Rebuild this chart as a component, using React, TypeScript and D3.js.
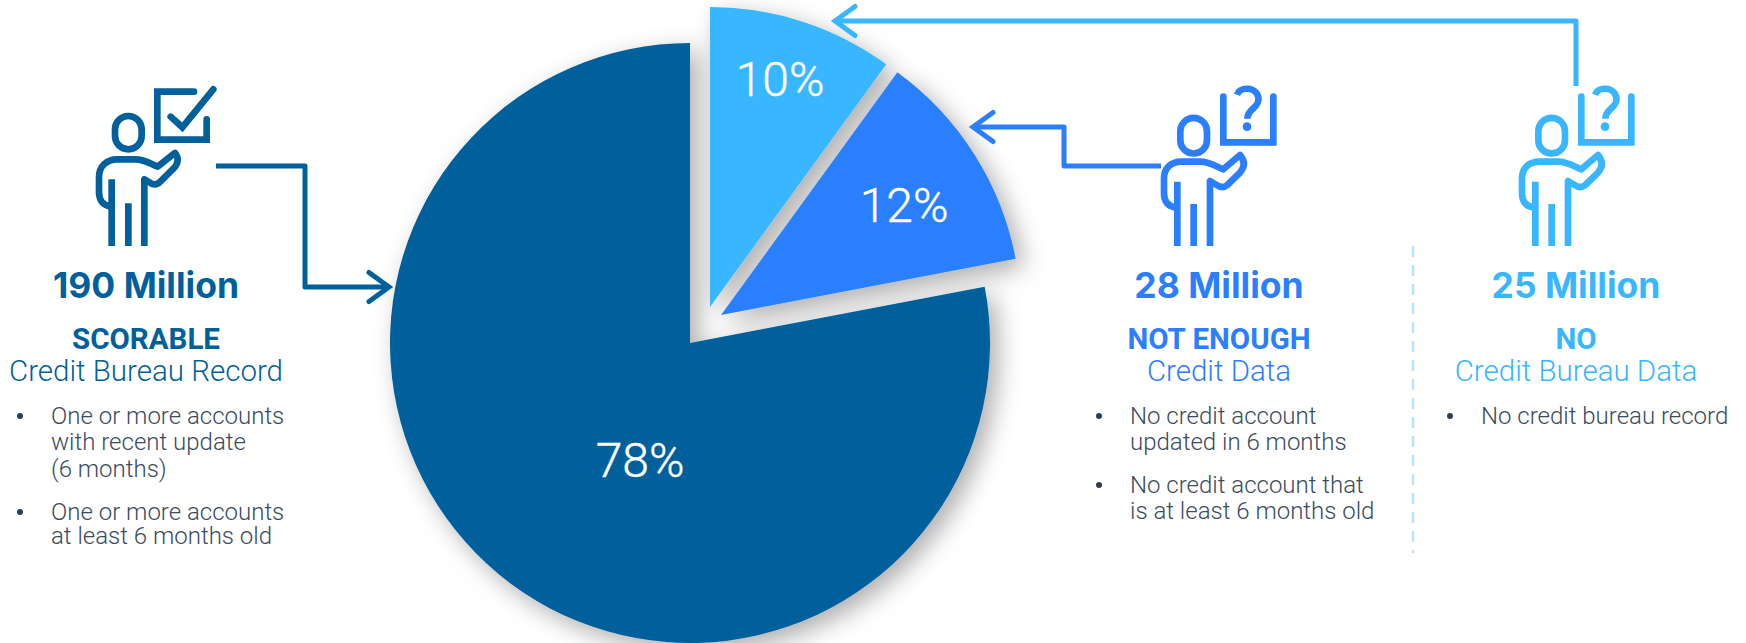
import React from "react";
import * as d3 from "d3";

// Credit population shares, clockwise from twelve o'clock
const segmentNames = ["No credit bureau data", "Not enough credit data", "Scorable"];
const segmentShares = [10, 12, 78];
const segmentColors = ["#38b6ff", "#2b7fff", "#00609c"];
const populationLabels = ["25 Million", "28 Million", "190 Million"];
const statusLabels = ["NO", "NOT ENOUGH", "SCORABLE"];
const recordLabels = ["Credit Bureau Data", "Credit Data", "Credit Bureau Record"];

const scorableBullets = [
  ["One or more accounts", "with recent update", "(6 months)"],
  ["One or more accounts", "at least 6 months old"],
];
const notEnoughBullets = [
  ["No credit account", "updated in 6 months"],
  ["No credit account that", "is at least 6 months old"],
];
const noDataBullets = [["No credit bureau record"]];

const WIDTH = 1746;
const HEIGHT = 643;
const RADIUS = 300;
const CENTER: [number, number] = [690, 343];
const SLICE_SHIFT: [number, number][] = [[20, -36], [31, -28], [0, 0]];
const SHARE_LABEL_POS: [number, number][] = [[780, 96], [904, 222], [640, 477]];
const BODY_TEXT = "#3b4b5e";
const SANS = "Roboto, sans-serif";

const pieLayout = d3.pie<number>().sort(null).startAngle(0).endAngle(2 * Math.PI);
const arcShape = d3.arc<d3.PieArcDatum<number>>().innerRadius(0).outerRadius(RADIUS);
const polyline = d3.line<[number, number]>();

function Arrow({ points, color }: { points: [number, number][]; color: string }) {
  const [tipX, tipY] = points[points.length - 1];
  const [prevX, prevY] = points[points.length - 2];
  const dir = Math.sign(tipX - prevX);
  const head: [number, number][] = [
    [tipX - dir * 20, tipY - 14.5],
    [tipX, tipY],
    [tipX - dir * 20, tipY + 14.5],
  ];
  return (
    <g fill="none" stroke={color} strokeWidth={5}>
      <path d={polyline(points) ?? ""} strokeLinejoin="round" />
      <path d={polyline(head) ?? ""} strokeLinecap="round" strokeLinejoin="miter" />
    </g>
  );
}

function Head({ x, y, rx, h }: { x: number; y: number; rx: number; h: number }) {
  return <rect x={x - rx} y={y - h / 2} width={rx * 2} height={h} rx={rx} ry={rx} />;
}

// Standing figure beside a ticked box, drawn on a 3x grid
function CheckFigure({ color }: { color: string }) {
  return (
    <g transform="translate(80,70) scale(0.3333)" fill="none" stroke={color} strokeWidth={20}>
      <Head x={145} y={188} rx={40} h={100} />
      <path d="M95 409 C66 409 57 386 57 366 L57 322 C57 288 80 268 112 268 L165 268 C195 268 215 283 233 290 L285 249 C296 262 296 278 283 293 L241 335 C231 345 220 345 210 338 L193 328 L193 528" strokeLinejoin="round" />
      <path d="M95 328 V528 M145 400 V528" />
      <path d="M342 65 H232 V209 H380 V148" strokeLinecap="round" strokeLinejoin="miter" />
      <path d="M272 140 L307 172 L400 58" strokeLinecap="round" strokeLinejoin="miter" />
    </g>
  );
}

// Same figure beside an open box holding a question mark
function QuestionFigure({ color, dx }: { color: string; dx: number }) {
  return (
    <g transform={`translate(${1140 + dx},70) scale(0.3333)`} fill="none" stroke={color} strokeWidth={20}>
      <Head x={161} y={197} rx={40} h={107} />
      <path d="M112 412 C82 412 72 392 72 370 L72 325 C72 295 92 275 125 275 L180 275 C210 275 230 290 250 298 L300 255 C315 272 315 290 300 308 L262 345 C250 355 240 352 230 345 L210 333 L210 528" strokeLinejoin="round" />
      <path d="M112 335 V528 M161 402 V528" />
      <path d="M250 80 V217 H400 V80" strokeLinecap="round" strokeLinejoin="miter" />
      <path d="M291 74 C300 52 335 50 350 70 C362 88 352 105 340 115 C325 128 322 135 322 146" />
      <circle cx={321} cy={170} r={13} fill={color} stroke="none" />
    </g>
  );
}

function Bullets({ groups, dotX, textX, baselines }: { groups: string[][]; dotX: number; textX: number; baselines: number[] }) {
  let line = 0;
  return (
    <g fontFamily={SANS} fontWeight={300} fontSize={24} fill={BODY_TEXT}>
      {groups.map((lines, g) => {
        const first = baselines[line];
        return (
          <g key={g}>
            <circle cx={dotX} cy={first - 8} r={3} fill="#2c3e50" />
            {lines.map((t) => {
              const y = baselines[line++];
              return <text key={t} x={textX} y={y}>{t}</text>;
            })}
          </g>
        );
      })}
    </g>
  );
}

function Heading({ i, x }: { i: number; x: number }) {
  const color = segmentColors[i];
  return (
    <g textAnchor="middle" fill={color}>
      <text x={x} y={298} fontFamily="Inter, sans-serif" fontWeight={700} fontSize={35.5}>{populationLabels[i]}</text>
      <text x={x} y={349} fontFamily={SANS} fontWeight={700} fontSize={29.5}>{statusLabels[i]}</text>
      <text x={x} y={381} fontFamily={SANS} fontWeight={300} fontSize={29.5}>{recordLabels[i]}</text>
    </g>
  );
}

export default function App() {
  const slices = pieLayout(segmentShares);
  return (
    <svg width={WIDTH} height={HEIGHT} viewBox={`0 0 ${WIDTH} ${HEIGHT}`} style={{ position: "absolute", left: 0, top: 0, display: "block", background: "#fff" }}>
      <defs>
        <filter id="pieShadow" x="-15%" y="-15%" width="130%" height="130%">
          <feDropShadow dx={8} dy={8} stdDeviation={12} floodColor="#000" floodOpacity={0.32} />
        </filter>
      </defs>

      <g filter="url(#pieShadow)">
        {slices.map((s, i) => (
          <path
            key={segmentNames[i]}
            d={arcShape(s) ?? ""}
            fill={segmentColors[i]}
            transform={`translate(${CENTER[0] + SLICE_SHIFT[i][0]},${CENTER[1] + SLICE_SHIFT[i][1]})`}
          />
        ))}
      </g>
      {segmentShares.map((v, i) => (
        <text key={i} x={SHARE_LABEL_POS[i][0]} y={SHARE_LABEL_POS[i][1]} textAnchor="middle" fontFamily={SANS} fontWeight={300} fontSize={48} stroke="#fff" strokeWidth={0.4} fill="#fff">
          {`${v}%`}
        </text>
      ))}

      <Arrow color={segmentColors[2]} points={[[216, 166], [305, 166], [305, 287], [389, 287]]} />
      <Arrow color={segmentColors[1]} points={[[1161, 166], [1064, 166], [1064, 127], [973, 127]]} />
      <Arrow color={segmentColors[0]} points={[[1576, 86], [1576, 21], [835, 21]]} />

      <CheckFigure color={segmentColors[2]} />
      <QuestionFigure color={segmentColors[1]} dx={0} />
      <QuestionFigure color={segmentColors[0]} dx={358} />

      <Heading i={2} x={146} />
      <Heading i={1} x={1219} />
      <Heading i={0} x={1576} />

      <Bullets groups={scorableBullets} dotX={20} textX={51} baselines={[424, 450, 477, 520, 544]} />
      <Bullets groups={notEnoughBullets} dotX={1099} textX={1130} baselines={[424, 450, 493, 519]} />
      <Bullets groups={noDataBullets} dotX={1450} textX={1481} baselines={[424]} />

      <line x1={1413} x2={1413} y1={246} y2={553} stroke="#bfe0fb" strokeWidth={2.5} strokeDasharray="11 8" />
    </svg>
  );
}
